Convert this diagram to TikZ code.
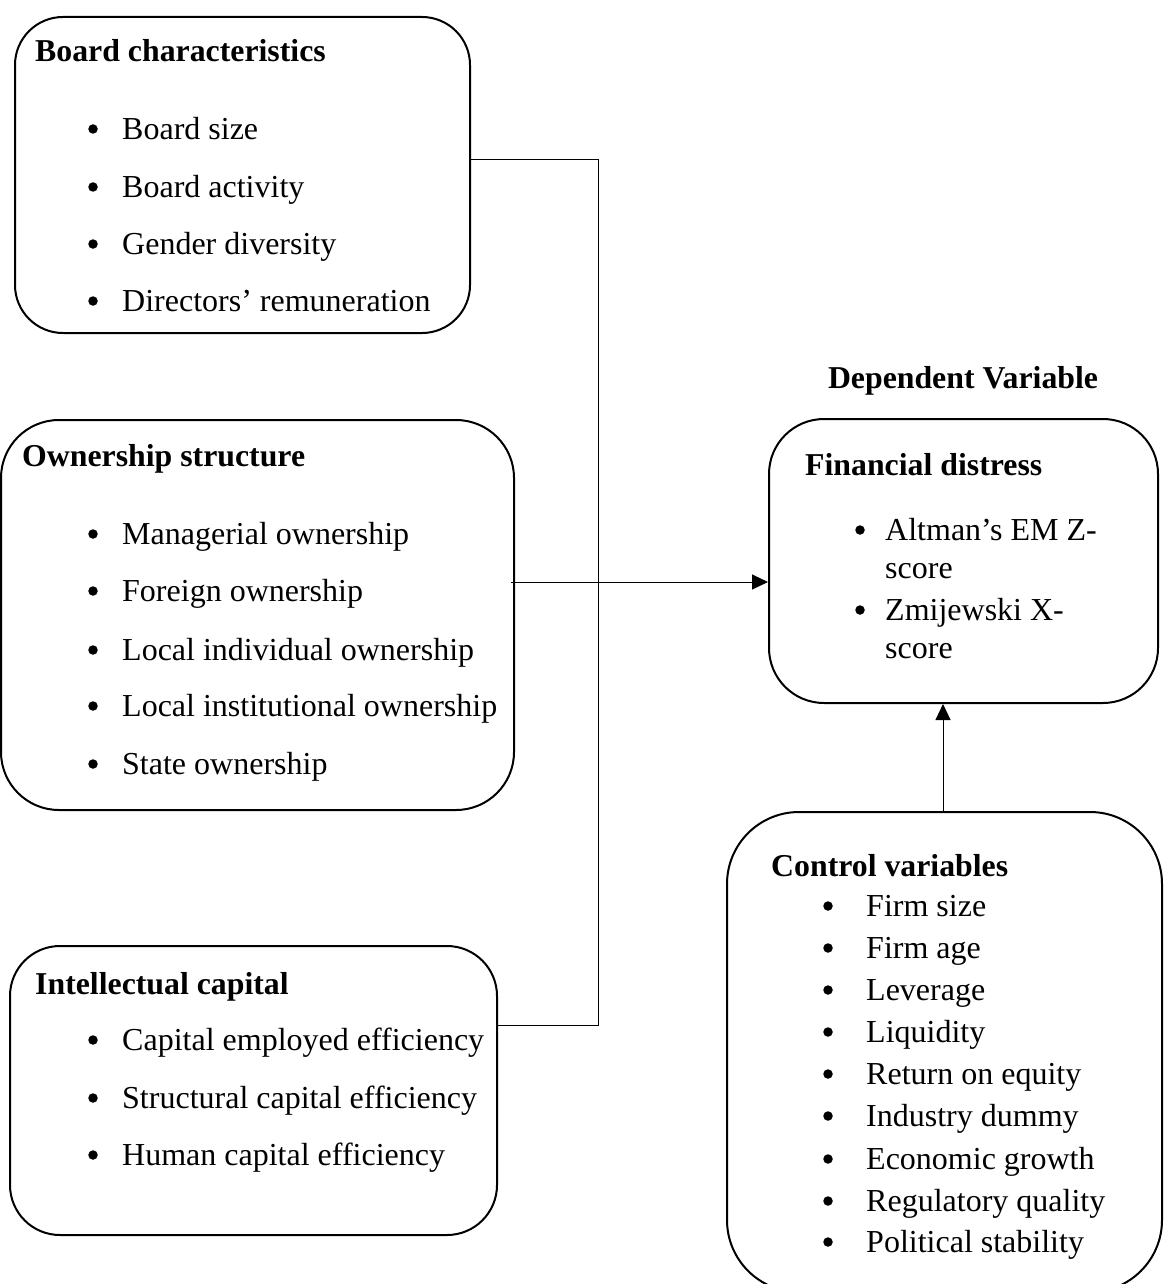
\documentclass[tikz,border=0pt]{standalone}
\usepackage{fontspec}
\setmainfont{Liberation Serif}
\usetikzlibrary{arrows.meta}
\begin{document}
\begin{tikzpicture}[x=1pt,y=-1pt,
  box/.style={draw, line width=2pt, inner sep=0pt},
  title/.style={anchor=mid west, font=\fontsize{31.8}{36}\selectfont\bfseries, inner sep=0pt},
  item/.style={anchor=mid west, font=\fontsize{32}{36}\selectfont, inner sep=0pt},
  bul/.style={circle, fill, inner sep=0pt, minimum size=9.5pt},
  conn/.style={line width=1pt},
  arr/.style={line width=1pt, -{Triangle[length=16pt,width=15pt]}}]
\useasboundingbox (0,0) rectangle (1165,1284);
% boxes
\node[box, rounded corners=48pt, minimum width=455pt, minimum height=316pt] (bc) at (242.5,175) {};
\node[box, rounded corners=58pt, minimum width=513pt, minimum height=390pt] (os) at (257.5,615) {};
\node[box, rounded corners=50pt, minimum width=487pt, minimum height=289pt] (ic) at (253.5,1090.5) {};
\node[box, rounded corners=55pt, minimum width=389pt, minimum height=284pt] (fd) at (963.5,561) {};
\node[box, rounded corners=72pt, minimum width=435pt, minimum height=480pt] (cv) at (944.5,1052) {};
% board characteristics
\node[title] (bct) at (35,59) {Board characteristics};
\foreach \y/\t [count=\i] in {129/Board size, 187/Board activity, 244/Gender diversity, 301/Directors’ remuneration}{
  \node[bul] (bcb\i) at (93,\y) {};
  \node[item] (bci\i) at (122,\y+8) {\t};
}
% ownership structure
\node[title] (ost) at (22,464) {Ownership structure};
\foreach \y/\t [count=\i] in {534/Managerial ownership, 591/Foreign ownership, 650/Local individual ownership, 706/Local institutional ownership, 764/State ownership}{
  \node[bul] (osb\i) at (93,\y) {};
  \node[item] (osi\i) at (122,\y+8) {\t};
}
% intellectual capital
\node[title] (ict) at (35,992) {Intellectual capital};
\foreach \y/\t [count=\i] in {1040/Capital employed efficiency, 1098/Structural capital efficiency, 1155/Human capital efficiency}{
  \node[bul] (icb\i) at (93,\y) {};
  \node[item] (ici\i) at (122,\y+8) {\t};
}
% dependent variable
\node[title, anchor=mid] (dv) at (963,386) {Dependent Variable};
\node[title] (fdt) at (805,473) {Financial distress};
\node[bul] (fdb1) at (860,530) {};
\node[item] (fdi1) at (885,538) {Altman’s EM Z-};
\node[item] (fdi1b) at (885,576) {score};
\node[bul] (fdb2) at (860,610) {};
\node[item] (fdi2) at (885,618) {Zmijewski X-};
\node[item] (fdi2b) at (885,656) {score};
% control variables
\node[title] (cvt) at (771,874) {Control variables};
\foreach \y/\t [count=\i] in {906/Firm size, 948/Firm age, 990/Leverage, 1032/Liquidity, 1074/Return on equity, 1116/Industry dummy, 1159/Economic growth, 1201/Regulatory quality, 1242/Political stability}{
  \node[bul] (cvb\i) at (828,\y) {};
  \node[item] (cvi\i) at (866,\y+8) {\t};
}
% connectors
\coordinate (j1) at (598,160);
\coordinate (j2) at (598,1025);
\coordinate (a0) at (511,582);
\draw[conn] (bc.east |- j1) -- (j1) -- (j2) -- (ic.east |- j2);
\draw[arr] (a0) -- (fd.west |- a0);
\draw[arr] (cv.north -| 943,0) -- (fd.south -| 943,0);
\end{tikzpicture}
\end{document}
